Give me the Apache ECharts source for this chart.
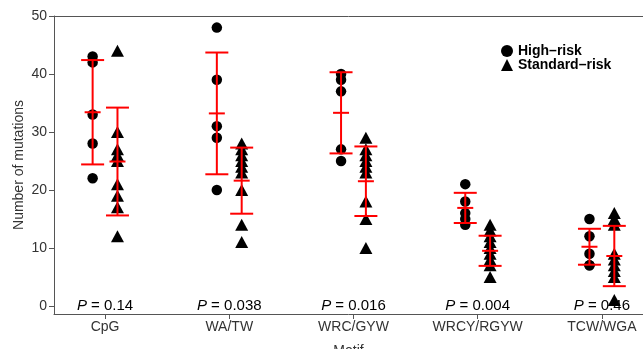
<!DOCTYPE html>
<html>
<head>
<meta charset="utf-8">
<script src="https://cdn.jsdelivr.net/npm/echarts@6/dist/echarts.min.js"></script>
<style>
html,body{margin:0;padding:0;background:#fff;}
#chart{width:643px;height:349px;}
</style>
</head>
<body>
<div id="chart"></div>
<script>
// ---- data ----
const categories = ['CpG', 'WA/TW', 'WRC/GYW', 'WRCY/RGYW', 'TCW/WGA'];
const highRisk = [
  [43, 42, 33, 28, 22],
  [48, 39, 31, 29, 20],
  [40, 39, 37, 27, 25],
  [21, 18, 16, 15, 14],
  [15, 12, 9, 7, 7]
];
const standardRisk = [
  [44, 30, 27, 26, 25, 21, 19, 17, 12],
  [28, 27, 26, 25, 24, 23, 20, 14, 11],
  [29, 27, 26, 25, 24, 23, 18, 15, 10],
  [14, 13, 12, 11, 10, 9, 8, 7, 5],
  [16, 15, 14, 9, 8, 7, 6, 5, 1]
];
const highMean = [33.4, 33.2, 33.3, 16.9, 10.2];
const highSD = [9.0, 10.5, 7.0, 2.6, 3.1];
const stdMean = [24.9, 21.6, 21.5, 9.5, 8.6];
const stdSD = [9.3, 5.7, 6.0, 2.6, 5.2];
const pValues = ['0.14', '0.038', '0.016', '0.004', '0.46'];
const yTicks = [0, 10, 20, 30, 40, 50];
const seriesNames = ['High\u2013risk', 'Standard\u2013risk'];

// ---- build ----
const FONT = '"Liberation Sans", Arial, Helvetica, sans-serif';
const AX = '#555';
const TXT = '#333';
const OFF = 0.1;
const xTicks = categories.map((c, i) => i + 1);

const highPts = [];
highRisk.forEach((arr, i) => arr.forEach(v => highPts.push([i + 1 - OFF, v])));
const stdPts = [];
standardRisk.forEach((arr, i) => arr.forEach(v => stdPts.push([i + 1 + OFF, v])));

const errData = [];
categories.forEach((c, i) => {
  errData.push([i + 1 - OFF, highMean[i], highSD[i]]);
  errData.push([i + 1 + OFF, stdMean[i], stdSD[i]]);
});
const pData = categories.map((c, i) => [i + 1, 0, i]);

const chart = echarts.init(document.getElementById('chart'), null, {renderer: 'canvas'});
const xMin = 0.589, xMax = 5.331;
chart.setOption({
  backgroundColor: '#fff',
  animation: false,
  textStyle: {fontFamily: FONT},
  grid: {left: 54, right: 0, top: 16, bottom: 35, containLabel: false, outerBoundsMode: 'none'},
  legend: {
    data: seriesNames,
    orient: 'vertical',
    left: 501, top: 44,
    padding: 0,
    itemWidth: 12, itemHeight: 12, itemGap: 0,
    textStyle: {fontFamily: FONT, fontWeight: 'bold', fontSize: 14, color: '#000'}
  },
  xAxis: [{
    type: 'value', min: xMin, max: xMax, position: 'bottom',
    axisLine: {show: true, onZero: false, lineStyle: {color: AX, width: 1}},
    axisTick: {show: true, customValues: xTicks, length: 5, lineStyle: {color: AX}},
    axisLabel: {customValues: xTicks, formatter: v => categories[Math.round(v) - 1],
      margin: 6, fontSize: 14, color: TXT, fontFamily: FONT},
    splitLine: {show: false},
    name: 'Motif', nameLocation: 'middle', nameGap: 30,
    nameTextStyle: {fontSize: 14, color: TXT, fontFamily: FONT}
  }, {
    type: 'value', min: xMin, max: xMax, position: 'top',
    axisLine: {show: true, onZero: false, lineStyle: {color: AX, width: 1}},
    axisTick: {show: false}, axisLabel: {show: false}, splitLine: {show: false}
  }],
  yAxis: {
    type: 'value', min: -1.4, max: 50,
    axisLine: {show: true, onZero: false, lineStyle: {color: AX, width: 1}},
    axisTick: {show: true, customValues: yTicks, length: 5, lineStyle: {color: AX}},
    axisLabel: {customValues: yTicks, margin: 7, fontSize: 14, color: TXT, fontFamily: FONT},
    splitLine: {show: false},
    name: 'Number of mutations', nameLocation: 'middle', nameGap: 28, nameMoveOverlap: false,
    nameTextStyle: {fontSize: 14, color: TXT, fontFamily: FONT}
  },
  series: [
    {
      type: 'custom', name: 'pvals', silent: true, z: 1,
      data: pData,
      renderItem: (params, api) => {
        const p = api.coord([api.value(0), api.value(1)]);
        const idx = api.value(2);
        return {
          type: 'text',
          style: {
            x: p[0], y: p[1],
            text: '{i|P} = ' + pValues[idx],
            align: 'center', verticalAlign: 'middle',
            fontSize: 15, fontFamily: FONT, fill: '#000',
            rich: {i: {fontStyle: 'italic', fontSize: 15, fontFamily: FONT, fill: '#000'}}
          }
        };
      }
    },
    {
      type: 'scatter', name: seriesNames[0], data: highPts, z: 3,
      symbol: 'circle', symbolSize: 10.5,
      itemStyle: {color: '#000', opacity: 1}
    },
    {
      type: 'scatter', name: seriesNames[1], data: stdPts, z: 3,
      symbol: 'triangle', symbolSize: [13, 12],
      itemStyle: {color: '#000', opacity: 1}
    },
    {
      type: 'custom', name: 'err', silent: true, z: 5,
      data: errData,
      renderItem: (params, api) => {
        const x = api.value(0), m = api.value(1), s = api.value(2);
        const c = api.coord([x, m]);
        const hi = api.coord([x, m + s]);
        const lo = api.coord([x, m - s]);
        const st = {stroke: '#ff0000', lineWidth: 2};
        const cap = 11.5, mw = 8;
        return {
          type: 'group',
          children: [
            {type: 'line', shape: {x1: c[0], y1: hi[1], x2: c[0], y2: lo[1]}, style: st},
            {type: 'line', shape: {x1: c[0] - cap, y1: hi[1], x2: c[0] + cap, y2: hi[1]}, style: st},
            {type: 'line', shape: {x1: c[0] - cap, y1: lo[1], x2: c[0] + cap, y2: lo[1]}, style: st},
            {type: 'line', shape: {x1: c[0] - mw, y1: c[1], x2: c[0] + mw, y2: c[1]}, style: st}
          ]
        };
      }
    }
  ]
});
</script>
</body>
</html>
